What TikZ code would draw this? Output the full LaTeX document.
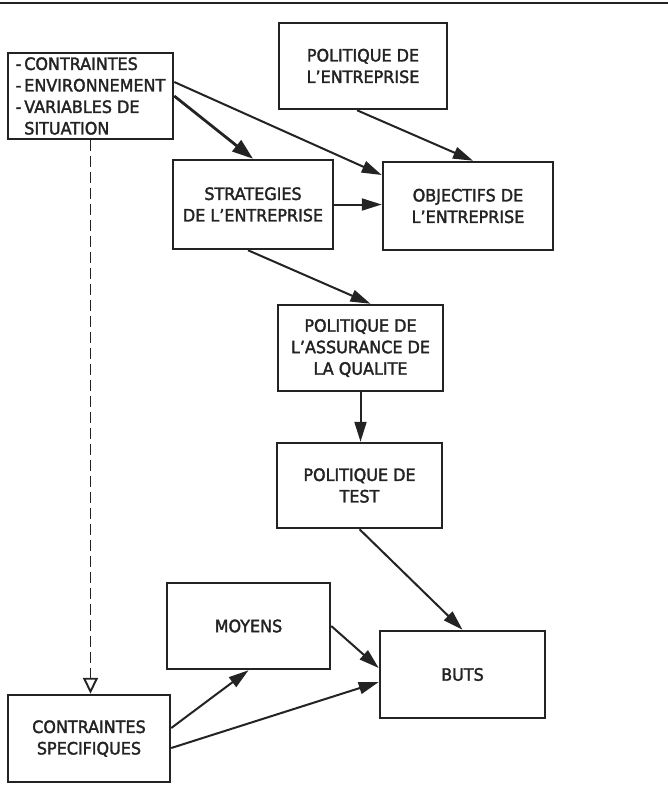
\documentclass[tikz,border=0pt]{standalone}
\usepackage{fontspec}
\setmainfont{DejaVu Sans}[FakeStretch=0.94,FakeBold=2]
\usetikzlibrary{arrows.meta,calc}
\definecolor{ink}{RGB}{35,35,35}
\begin{document}
\begin{tikzpicture}[x=1pt,y=-1pt,
  box/.style={draw=ink, line width=2.5pt, text=ink, align=center, inner sep=0pt,
    font=\fontsize{17}{21.5}\selectfont},
  conn/.style={draw=ink, line width=2pt, -{Triangle[length=20pt,width=12pt]}},
  bigconn/.style={draw=ink, line width=2.8pt, -{Triangle[length=21pt,width=14pt]}},
  dconn/.style={draw=ink, line width=1.9pt, dash pattern=on 11pt off 5pt,
    -{Triangle[open,length=16pt,width=15pt,line width=1.9pt]}}]
\useasboundingbox (0,0) rectangle (668,798);
\fill[white] (0,0) rectangle (668,798);
\draw[ink, line width=2.5pt] (0,3) coordinate (tl) -- (668,3) coordinate (tr);

\node[box, minimum width=165pt, minimum height=86pt, align=left] (cont) at (90.5,96)
  {-\,CONTRAINTES\\-\,ENVIRONNEMENT\\-\,VARIABLES DE\\\hphantom{-\,}SITUATION};
\node[box, minimum width=168pt, minimum height=86pt] (pol) at (363,66)
  {POLITIQUE DE\\L'ENTREPRISE};
\node[box, minimum width=160pt, minimum height=89pt] (strat) at (253,204.5)
  {STRATEGIES\\DE L'ENTREPRISE};
\node[box, minimum width=170pt, minimum height=88pt] (obj) at (468,206)
  {OBJECTIFS DE\\L'ENTREPRISE};
\node[box, minimum width=165pt, minimum height=86pt] (paq) at (360.5,348)
  {POLITIQUE DE\\L'ASSURANCE DE\\LA QUALITE};
\node[box, minimum width=165pt, minimum height=85pt] (test) at (359.5,485.5)
  {POLITIQUE DE\\TEST};
\node[box, minimum width=163pt, minimum height=86pt] (moy) at (248.5,626)
  {MOYENS};
\node[box, minimum width=165pt, minimum height=87pt] (buts) at (462.5,674.5)
  {BUTS};
\node[box, minimum width=162pt, minimum height=87pt] (cs) at (89,738.5)
  {CONTRAINTES\\SPECIFIQUES};

\draw[conn] ([yshift=14pt]cont.east) -- ([yshift=31pt]obj.west);
\draw[bigconn] (cont.east) -- (strat.north);
\draw[conn] ([xshift=-6pt]pol.south) -- ([xshift=5pt]obj.north);
\draw[conn] (strat.east) -- (strat.east -| obj.west);
\draw[conn] ([xshift=-5pt]strat.south) -- ([xshift=10pt]paq.north);
\draw[conn] (paq.south) -- (paq.south |- test.north);
\draw[conn] (test.south) -- (buts.north);
\draw[conn] (moy.east) -- ([yshift=6.5pt]buts.west);
\draw[conn] ([yshift=10.5pt]cs.east) -- (moy.south);
\draw[conn] ([yshift=-9.5pt]cs.east) -- ([yshift=-7.5pt]buts.west);
\draw[dconn] (cont.south) -- (cont.south |- cs.north);
\end{tikzpicture}
\end{document}
